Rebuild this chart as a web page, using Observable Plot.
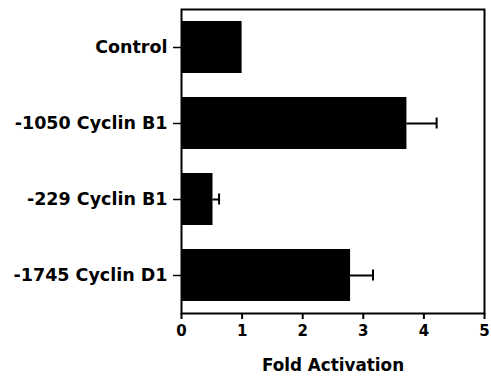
<!DOCTYPE html>
<html>
<head>
<meta charset="utf-8">
<script src="https://cdn.jsdelivr.net/npm/d3@7"></script>
<script src="https://cdn.jsdelivr.net/npm/@observablehq/plot@0.6"></script>
<style>
  html, body { margin: 0; padding: 0; background: #fff; }
  svg { font-family: "DejaVu Sans", sans-serif; font-weight: bold; }
</style>
</head>
<body>
<div id="chart"></div>
<script>
const names = ["Control", "-1050 Cyclin B1", "-229 Cyclin B1", "-1745 Cyclin D1"];
const values = [1.0, 3.72, 0.52, 2.79];
const errors = [0, 0.49, 0.10, 0.37];
const xTicks = [0, 1, 2, 3, 4, 5];

const data = names.map((name, i) => ({name, value: values[i], err: errors[i]}));
const errData = data.filter(d => d.err > 0);

const chart = Plot.plot({
  width: 491,
  height: 376,
  marginLeft: 181,
  marginRight: 7,
  marginTop: 9,
  marginBottom: 63,
  style: {background: "#fff", color: "#000", fontFamily: "DejaVu Sans, sans-serif", fontWeight: "bold"},
  x: {domain: [0, 5]},
  y: {domain: names, paddingInner: 0.32, paddingOuter: 0.16},
  marks: [
    Plot.barX(data, {x: "value", y: "name", fill: "#000"}),
    Plot.ruleY(errData, {x1: "value", x2: d => d.value + d.err, y: "name", stroke: "#000", strokeWidth: 2}),
    Plot.tickX(errData, {x: d => d.value + d.err, y: "name", stroke: "#000", strokeWidth: 2, insetTop: 20.5, insetBottom: 20.5}),
    Plot.frame({stroke: "#000", strokeWidth: 2}),
    Plot.axisY({tickSize: 8, tickPadding: 6, fontSize: 17.5, label: null, strokeWidth: 1.5}),
    Plot.axisX({ticks: xTicks, tickFormat: d3.format("d"), tickSize: 6, tickPadding: 6, fontSize: 15,
      strokeWidth: 2, label: null}),
    Plot.axisX({ticks: [], tickSize: 0, fontSize: 16.8, label: "Fold Activation", labelAnchor: "center",
      labelArrow: "none", labelOffset: 57})
  ]
});
document.getElementById("chart").appendChild(chart);
</script>
</body>
</html>
